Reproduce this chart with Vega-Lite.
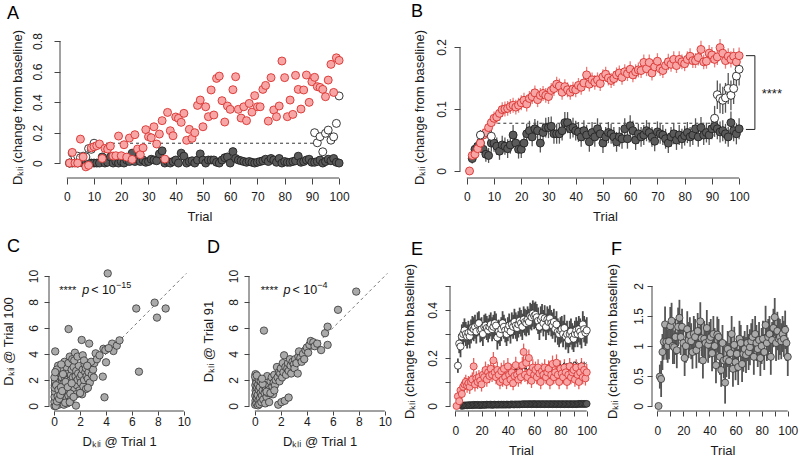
{
"$schema": "https://vega.github.io/schema/vega-lite/v6.json",
"padding": {"left": 2, "top": 3, "right": 5, "bottom": 5},
"config": {
  "view": {"stroke": null},
  "font": "Liberation Sans",
  "axis": {"domain": false, "grid": false, "tickColor": "#444", "tickWidth": 1, "labelFont": "Liberation Sans", "labelFontSize": 12, "labelColor": "#1a1a1a", "titleFont": "Liberation Sans", "titleFontSize": 13, "titleFontWeight": "normal", "titleColor": "#1a1a1a", "labelOverlap": false, "labelFlush": false},
  "axisY": {"labelAngle": -90, "labelAlign": "center", "labelBaseline": "bottom"},
  "title": {"anchor": "start", "frame": "group", "fontSize": 18, "fontWeight": "normal", "baseline": "alphabetic", "offset": 19, "font": "Liberation Sans", "color": "#000"}
},
"datasets": {
"A": [
{"t":1,"r":0,"d":0,"o":0},{"t":2,"r":0.07,"d":0,"o":0.065},{"t":3,"r":0,"d":0.01,"o":0.04},{"t":4,"r":0,"d":0,"o":0.045},{"t":5,"r":0.157,"d":0.02,"o":0.035},
{"t":6,"r":0.04,"d":0,"o":0.045},{"t":7,"r":-0.025,"d":0.01,"o":0.04},{"t":8,"r":-0.015,"d":0,"o":0.095},{"t":9,"r":0.1,"d":0,"o":0.09},{"t":10,"r":0.107,"d":0,"o":0.13},
{"t":11,"r":0.114,"d":0},{"t":12,"r":0.125,"d":0},{"t":13,"r":0.03,"d":0.04},{"t":14,"r":0.096,"d":0},{"t":15,"r":0.092,"d":0.005},
{"t":16,"r":0.111,"d":0.04},{"t":17,"r":0.046,"d":0},{"t":18,"r":0.048,"d":0.01},{"t":19,"r":0.177,"d":0},{"t":20,"r":0.048,"d":0.01},
{"t":21,"r":0.12,"d":0},{"t":22,"r":0.039,"d":0.02},{"t":23,"r":0.164,"d":0.01},{"t":24,"r":0.024,"d":0.065},{"t":25,"r":0.186,"d":0.01},
{"t":26,"r":0.092,"d":0.025},{"t":27,"r":0.055,"d":0.01},{"t":28,"r":0.1,"d":0.02},{"t":29,"r":0.219,"d":0.005},{"t":30,"r":0.173,"d":0.01},
{"t":31,"r":0.166,"d":0.025},{"t":32,"r":0.238,"d":0.02},{"t":33,"r":0.125,"d":0.015},{"t":34,"r":0.19,"d":0.06},{"t":35,"r":0.278,"d":0.08},
{"t":36,"r":0.026,"d":0},{"t":37,"r":0.332,"d":0.01},{"t":38,"r":0.212,"d":0},{"t":39,"r":0.179,"d":0.01},{"t":40,"r":0.302,"d":0.02},
{"t":41,"r":0.293,"d":0},{"t":42,"r":0.267,"d":0.065},{"t":43,"r":0.326,"d":0.045},{"t":44,"r":0.149,"d":0},{"t":45,"r":0.221,"d":0.01},
{"t":46,"r":0.162,"d":0.015},{"t":47,"r":0.199,"d":0},{"t":48,"r":0.378,"d":0.02},{"t":49,"r":0.413,"d":0.06},{"t":50,"r":0.238,"d":0.02},
{"t":51,"r":0.369,"d":0},{"t":52,"r":0.304,"d":0.02},{"t":53,"r":0.479,"d":0.02},{"t":54,"r":0.315,"d":0.02},{"t":55,"r":0.555,"d":0.005},
{"t":56,"r":0.57,"d":0},{"t":57,"r":0.409,"d":0.02},{"t":58,"r":0.269,"d":0.035},{"t":59,"r":0.374,"d":0.04},{"t":60,"r":0.352,"d":0},
{"t":61,"r":0.481,"d":0.075},{"t":62,"r":0.566,"d":0.03},{"t":63,"r":0.352,"d":0.02},{"t":64,"r":0.295,"d":0.015},{"t":65,"r":0.369,"d":0.01},
{"t":66,"r":0.278,"d":0.005},{"t":67,"r":0.391,"d":0.01},{"t":68,"r":0.334,"d":0.005},{"t":69,"r":0.442,"d":0},{"t":70,"r":0.369,"d":0.005},
{"t":71,"r":0.369,"d":0.01},{"t":72,"r":0.483,"d":0.015},{"t":73,"r":0.509,"d":0.025},{"t":74,"r":0.275,"d":0.01},{"t":75,"r":0.56,"d":0.03},
{"t":76,"r":0.348,"d":0.02},{"t":77,"r":0.304,"d":0.005},{"t":78,"r":0.374,"d":0.03},{"t":79,"r":0.669,"d":0},{"t":80,"r":0.56,"d":0.01},
{"t":81,"r":0.304,"d":0.005},{"t":82,"r":0.413,"d":0.005},{"t":83,"r":0.319,"d":0.01},{"t":84,"r":0.575,"d":0.015},{"t":85,"r":0.483,"d":0.045},
{"t":86,"r":0.354,"d":0.005},{"t":87,"r":0.479,"d":0.01},{"t":88,"r":0.577,"d":0.02},{"t":89,"r":0.398,"d":0.025},{"t":90,"r":0.533,"d":0.005},
{"t":91,"r":0.562,"d":0.005,"o":0.199},{"t":92,"r":0.501,"d":0.01,"o":0.133},{"t":93,"r":0.496,"d":0.02,"o":0.173},{"t":94,"r":0.483,"d":0,"o":0.074},{"t":95,"r":0.435,"d":0.01,"o":0.195},
{"t":96,"r":0.544,"d":0.025,"o":0.216},{"t":97,"r":0.647,"d":0.015,"o":0.15},{"t":98,"r":0.463,"d":0.03,"o":0.172},{"t":99,"r":0.69,"d":0.005,"o":0.26},{"t":100,"r":0.673,"d":0,"o":0.44}
],
"B": [
{"t":1,"r":0,"re":0.001},
{"t":2,"r":0.025,"re":0.006,"d":0.02,"de":0.008},{"t":3,"r":0.027,"re":0.007,"d":0.035,"de":0.01},{"t":4,"r":0.036,"re":0.008,"d":0.04,"de":0.012},{"t":5,"r":0.045,"re":0.009,"d":0.045,"de":0.012,"o":0.058,"oe":0.008},
{"t":6,"r":0.058,"re":0.01,"d":0.035,"de":0.013},{"t":7,"r":0.062,"re":0.01,"d":0.027,"de":0.012},{"t":8,"r":0.07,"re":0.011,"d":0.025,"de":0.012},{"t":9,"r":0.078,"re":0.011,"d":0.045,"de":0.014,"o":0.056,"oe":0.01},{"t":10,"r":0.085,"re":0.011,"d":0.045,"de":0.014},
{"t":11,"r":0.087,"re":0.011,"d":0.04,"de":0.014},{"t":12,"r":0.093,"re":0.012,"d":0.032,"de":0.014},{"t":13,"r":0.099,"re":0.012,"d":0.042,"de":0.015},{"t":14,"r":0.1,"re":0.012,"d":0.04,"de":0.014},{"t":15,"r":0.101,"re":0.012,"d":0.036,"de":0.015},
{"t":16,"r":0.104,"re":0.012,"d":0.042,"de":0.014},{"t":17,"r":0.106,"re":0.012,"d":0.058,"de":0.016},{"t":18,"r":0.103,"re":0.012,"d":0.045,"de":0.015},{"t":19,"r":0.106,"re":0.012,"d":0.035,"de":0.015},{"t":20,"r":0.11,"re":0.012,"d":0.035,"de":0.014},
{"t":21,"r":0.114,"re":0.012,"d":0.045,"de":0.015},{"t":22,"r":0.108,"re":0.012,"d":0.06,"de":0.016},{"t":23,"r":0.117,"re":0.012,"d":0.065,"de":0.016},{"t":24,"r":0.12,"re":0.012,"d":0.055,"de":0.015},{"t":25,"r":0.126,"re":0.012,"d":0.068,"de":0.016},
{"t":26,"r":0.115,"re":0.012,"d":0.065,"de":0.016},{"t":27,"r":0.122,"re":0.012,"d":0.045,"de":0.015},{"t":28,"r":0.125,"re":0.012,"d":0.062,"de":0.016},{"t":29,"r":0.122,"re":0.012,"d":0.07,"de":0.016},{"t":30,"r":0.12,"re":0.012,"d":0.07,"de":0.017},
{"t":31,"r":0.13,"re":0.012,"d":0.072,"de":0.016},{"t":32,"r":0.133,"re":0.012,"d":0.06,"de":0.016},{"t":33,"r":0.14,"re":0.012,"d":0.06,"de":0.016},{"t":34,"r":0.137,"re":0.012,"d":0.06,"de":0.016},{"t":35,"r":0.127,"re":0.012,"d":0.065,"de":0.016},
{"t":36,"r":0.136,"re":0.012,"d":0.078,"de":0.017},{"t":37,"r":0.131,"re":0.012,"d":0.078,"de":0.017},{"t":38,"r":0.127,"re":0.012,"d":0.068,"de":0.016},{"t":39,"r":0.132,"re":0.012,"d":0.07,"de":0.016},{"t":40,"r":0.131,"re":0.012,"d":0.065,"de":0.016},
{"t":41,"r":0.138,"re":0.012,"d":0.063,"de":0.016},{"t":42,"r":0.135,"re":0.012,"d":0.055,"de":0.016},{"t":43,"r":0.142,"re":0.012,"d":0.065,"de":0.017},{"t":44,"r":0.155,"re":0.013,"d":0.058,"de":0.016},{"t":45,"r":0.14,"re":0.012,"d":0.047,"de":0.016},
{"t":46,"r":0.147,"re":0.012,"d":0.062,"de":0.017},{"t":47,"r":0.143,"re":0.012,"d":0.055,"de":0.016},{"t":48,"r":0.147,"re":0.012,"d":0.068,"de":0.017},{"t":49,"r":0.141,"re":0.012,"d":0.06,"de":0.016},{"t":50,"r":0.152,"re":0.012,"d":0.045,"de":0.016},
{"t":51,"r":0.156,"re":0.012,"d":0.055,"de":0.016},{"t":52,"r":0.15,"re":0.012,"d":0.062,"de":0.017},{"t":53,"r":0.146,"re":0.012,"d":0.06,"de":0.016},{"t":54,"r":0.149,"re":0.012,"d":0.055,"de":0.016},{"t":55,"r":0.155,"re":0.012,"d":0.047,"de":0.016},
{"t":56,"r":0.158,"re":0.012,"d":0.055,"de":0.016},{"t":57,"r":0.151,"re":0.012,"d":0.052,"de":0.016},{"t":58,"r":0.16,"re":0.012,"d":0.068,"de":0.017},{"t":59,"r":0.157,"re":0.012,"d":0.052,"de":0.016},{"t":60,"r":0.164,"re":0.013,"d":0.073,"de":0.017},
{"t":61,"r":0.155,"re":0.012,"d":0.065,"de":0.016},{"t":62,"r":0.16,"re":0.012,"d":0.05,"de":0.016},{"t":63,"r":0.163,"re":0.012,"d":0.06,"de":0.016},{"t":64,"r":0.162,"re":0.012,"d":0.055,"de":0.016},{"t":65,"r":0.175,"re":0.013,"d":0.058,"de":0.016},
{"t":66,"r":0.165,"re":0.012,"d":0.065,"de":0.017},{"t":67,"r":0.175,"re":0.013,"d":0.062,"de":0.016},{"t":68,"r":0.158,"re":0.012,"d":0.055,"de":0.016},{"t":69,"r":0.168,"re":0.012,"d":0.048,"de":0.016},{"t":70,"r":0.177,"re":0.013,"d":0.063,"de":0.017},
{"t":71,"r":0.165,"re":0.012,"d":0.06,"de":0.016},{"t":72,"r":0.162,"re":0.012,"d":0.058,"de":0.016},{"t":73,"r":0.17,"re":0.012,"d":0.052,"de":0.016},{"t":74,"r":0.176,"re":0.013,"d":0.045,"de":0.016},{"t":75,"r":0.172,"re":0.012,"d":0.055,"de":0.016},
{"t":76,"r":0.18,"re":0.013,"d":0.06,"de":0.017},{"t":77,"r":0.17,"re":0.012,"d":0.05,"de":0.016},{"t":78,"r":0.18,"re":0.013,"d":0.058,"de":0.016},{"t":79,"r":0.176,"re":0.012,"d":0.052,"de":0.016},{"t":80,"r":0.173,"re":0.012,"d":0.057,"de":0.016},
{"t":81,"r":0.18,"re":0.013,"d":0.062,"de":0.017},{"t":82,"r":0.185,"re":0.013,"d":0.055,"de":0.016},{"t":83,"r":0.178,"re":0.012,"d":0.058,"de":0.016},{"t":84,"r":0.178,"re":0.012,"d":0.068,"de":0.017},{"t":85,"r":0.183,"re":0.013,"d":0.055,"de":0.016},
{"t":86,"r":0.196,"re":0.014,"d":0.07,"de":0.017},{"t":87,"r":0.176,"re":0.012,"d":0.058,"de":0.016},{"t":88,"r":0.177,"re":0.012,"d":0.062,"de":0.016},{"t":89,"r":0.19,"re":0.013,"d":0.058,"de":0.016},{"t":90,"r":0.187,"re":0.013,"d":0.068,"de":0.017},
{"t":91,"r":0.18,"re":0.013,"d":0.072,"de":0.017,"o":0.085,"oe":0.02},{"t":92,"r":0.184,"re":0.013,"d":0.068,"de":0.017,"o":0.123,"oe":0.023},{"t":93,"r":0.199,"re":0.014,"d":0.063,"de":0.017,"o":0.117,"oe":0.024},{"t":94,"r":0.19,"re":0.013,"d":0.065,"de":0.017,"o":0.114,"oe":0.022},{"t":95,"r":0.178,"re":0.013,"d":0.06,"de":0.016,"o":0.118,"oe":0.024},
{"t":96,"r":0.185,"re":0.013,"d":0.055,"de":0.016,"o":0.133,"oe":0.025},{"t":97,"r":0.18,"re":0.013,"d":0.078,"de":0.018,"o":0.122,"oe":0.024},{"t":98,"r":0.185,"re":0.013,"d":0.065,"de":0.017,"o":0.133,"oe":0.025},{"t":99,"r":0.176,"re":0.013,"d":0.06,"de":0.017,"o":0.153,"oe":0.025},{"t":100,"r":0.186,"re":0.013,"d":0.068,"de":0.017,"o":0.164,"oe":0.026}
],
"C": [
{"x":0.05,"y":0.1},{"x":0.05,"y":0.4},{"x":0.08,"y":0.8},{"x":0.1,"y":1.2},{"x":0.05,"y":1.6},{"x":0.1,"y":2.0},{"x":0.12,"y":2.3},{"x":0.02,"y":0.0},{"x":0.15,"y":0.6},{"x":0.2,"y":1.0},{"x":0.18,"y":1.4},{"x":0.1,"y":1.8},{"x":0.2,"y":2.4},{"x":0.25,"y":0.2},{"x":0.08,"y":4.2},
{"x":0.3,"y":0.5},{"x":0.35,"y":0.9},{"x":0.4,"y":1.3},{"x":0.45,"y":1.7},{"x":0.3,"y":2.1},{"x":0.5,"y":2.5},{"x":0.55,"y":0.3},{"x":0.6,"y":0.7},{"x":0.5,"y":1.1},{"x":0.42,"y":1.5},{"x":0.58,"y":1.9},{"x":0.35,"y":0.1},{"x":0.45,"y":2.7},{"x":0.6,"y":2.2},{"x":0.3,"y":3.1},
{"x":0.7,"y":0.4},{"x":0.75,"y":0.9},{"x":0.8,"y":1.3},{"x":0.7,"y":1.7},{"x":0.85,"y":2.1},{"x":0.9,"y":2.6},{"x":0.95,"y":0.6},{"x":1.0,"y":1.0},{"x":0.9,"y":1.5},{"x":0.65,"y":2.9},{"x":0.8,"y":3.4},{"x":1.0,"y":2.0},{"x":0.75,"y":0.1},{"x":0.95,"y":3.0},{"x":1.0,"y":0.2},
{"x":1.1,"y":0.8},{"x":1.15,"y":1.2},{"x":1.2,"y":1.6},{"x":1.25,"y":2.0},{"x":1.3,"y":2.4},{"x":1.35,"y":2.8},{"x":1.4,"y":1.1},{"x":1.45,"y":1.5},{"x":1.1,"y":3.3},{"x":1.2,"y":3.8},{"x":1.11,"y":5.92},{"x":1.3,"y":0.5},{"x":1.45,"y":2.2},{"x":1.5,"y":3.0},{"x":1.4,"y":3.6},
{"x":1.55,"y":1.3},{"x":1.6,"y":1.8},{"x":1.65,"y":2.3},{"x":1.7,"y":2.7},{"x":1.75,"y":1.6},{"x":1.8,"y":2.0},{"x":1.85,"y":2.5},{"x":1.9,"y":3.1},{"x":1.68,"y":0.03},{"x":1.6,"y":4.1},{"x":1.95,"y":1.2},{"x":1.55,"y":3.5},{"x":1.8,"y":3.8},{"x":2.0,"y":2.2},{"x":1.7,"y":0.9},
{"x":2.05,"y":1.8},{"x":2.1,"y":2.4},{"x":2.2,"y":2.8},{"x":2.25,"y":1.5},{"x":2.3,"y":2.0},{"x":2.35,"y":3.2},{"x":2.4,"y":2.6},{"x":2.12,"y":5.08},{"x":2.2,"y":3.9},{"x":2.45,"y":1.3},{"x":2.5,"y":2.3},{"x":2.15,"y":0.9},{"x":2.3,"y":3.5},{"x":2.45,"y":2.9},{"x":2.0,"y":1.0},
{"x":2.6,"y":2.1},{"x":2.65,"y":2.6},{"x":2.7,"y":4.8},{"x":2.75,"y":1.8},{"x":2.8,"y":3.0},{"x":2.9,"y":2.4},{"x":3.0,"y":2.8},{"x":3.1,"y":3.3},{"x":3.2,"y":4.05},{"x":2.6,"y":1.4},{"x":2.85,"y":3.4},{"x":3.05,"y":2.2},{"x":2.55,"y":3.1},
{"x":3.75,"y":2.26},{"x":3.88,"y":0.67},{"x":3.8,"y":4.4},{"x":3.95,"y":4.3},{"x":4.0,"y":3.36},{"x":4.13,"y":10.2},{"x":4.47,"y":4.8},{"x":4.57,"y":4.23},{"x":4.83,"y":4.64},{"x":5.04,"y":5.05},{"x":6.33,"y":7.5},{"x":6.54,"y":2.64},{"x":7.75,"y":7.95},{"x":7.93,"y":6.8},{"x":8.6,"y":7.5},{"x":3.3,"y":3.6},{"x":3.5,"y":3.9},{"x":4.2,"y":4.45},
{"x":0.02,"y":0.3},{"x":0.03,"y":0.7},{"x":0.06,"y":1.1},{"x":0.04,"y":1.4},{"x":0.07,"y":1.9},{"x":0.02,"y":2.2},{"x":0.12,"y":0.0},{"x":0.22,"y":0.35},{"x":0.27,"y":0.75},{"x":0.15,"y":1.6},{"x":0.33,"y":1.25},{"x":0.38,"y":0.55},{"x":0.48,"y":0.85},{"x":0.52,"y":1.45},{"x":0.62,"y":1.15},{"x":0.68,"y":2.45},{"x":0.85,"y":0.25},{"x":0.88,"y":1.85},{"x":1.05,"y":1.45},{"x":1.2,"y":0.3},{"x":1.25,"y":0.95},{"x":1.35,"y":1.75},{"x":1.5,"y":0.7},{"x":0.2,"y":2.8},{"x":0.55,"y":3.2},{"x":0.08,"y":2.6}
],
"D": [
{"x":0.02,"y":0.1},{"x":0.05,"y":0.4},{"x":0.03,"y":0.8},{"x":0.06,"y":1.2},{"x":0.04,"y":1.6},{"x":0.08,"y":2.0},{"x":0.05,"y":2.45},{"x":0.12,"y":0.2},{"x":0.15,"y":0.6},{"x":0.1,"y":1.0},{"x":0.18,"y":1.4},{"x":0.12,"y":1.8},{"x":0.2,"y":2.2},{"x":0.25,"y":0.05},{"x":0.28,"y":0.45},
{"x":0.22,"y":0.85},{"x":0.3,"y":1.25},{"x":0.25,"y":1.65},{"x":0.02,"y":2.25},{"x":0.35,"y":0.15},{"x":0.4,"y":0.6},{"x":0.45,"y":1.0},{"x":0.38,"y":1.45},{"x":0.5,"y":0.3},{"x":0.55,"y":0.8},{"x":0.6,"y":1.2},{"x":0.65,"y":0.5},{"x":0.7,"y":1.6},{"x":0.75,"y":1.0},{"x":0.8,"y":0.2},
{"x":0.85,"y":1.3},{"x":0.9,"y":0.7},{"x":0.7,"y":5.8},{"x":0.95,"y":2.3},{"x":1.0,"y":1.0},{"x":1.05,"y":1.6},{"x":1.1,"y":0.3},{"x":1.15,"y":1.3},{"x":1.2,"y":1.9},{"x":1.3,"y":2.2},{"x":1.35,"y":1.5},{"x":1.4,"y":0.9},{"x":1.45,"y":1.8},{"x":1.5,"y":2.4},{"x":1.55,"y":1.6},
{"x":1.6,"y":2.0},{"x":1.7,"y":3.0},{"x":1.75,"y":2.2},{"x":1.8,"y":0.1},{"x":1.85,"y":2.6},{"x":1.9,"y":1.9},{"x":1.95,"y":2.5},{"x":2.0,"y":2.9},{"x":2.05,"y":0.3},{"x":2.1,"y":2.2},{"x":2.15,"y":3.3},{"x":2.2,"y":2.6},{"x":2.25,"y":3.9},{"x":2.3,"y":0.4},{"x":2.35,"y":3.0},
{"x":2.4,"y":2.4},{"x":2.5,"y":2.9},{"x":2.55,"y":3.3},{"x":2.6,"y":0.65},{"x":2.6,"y":2.7},{"x":2.7,"y":3.6},{"x":2.75,"y":3.1},{"x":2.8,"y":2.5},{"x":2.9,"y":3.4},{"x":3.0,"y":3.2},{"x":3.05,"y":2.9},{"x":3.1,"y":3.6},{"x":3.2,"y":3.3},{"x":3.3,"y":2.5},{"x":3.35,"y":3.8},
{"x":3.4,"y":4.2},{"x":3.5,"y":3.7},{"x":3.6,"y":3.4},{"x":3.7,"y":4.0},{"x":3.8,"y":3.6},{"x":3.9,"y":4.3},{"x":4.0,"y":4.5},{"x":4.1,"y":4.1},{"x":4.2,"y":4.7},{"x":4.3,"y":5.0},{"x":4.5,"y":4.9},{"x":4.6,"y":4.6},{"x":4.8,"y":4.8},{"x":5.1,"y":4.3},{"x":5.4,"y":5.6},
{"x":5.6,"y":6.1},{"x":5.6,"y":4.7},{"x":6.4,"y":7.4},{"x":7.8,"y":8.8},{"x":0.3,"y":2.0},{"x":0.15,"y":2.35},{"x":0.45,"y":1.9},{"x":0.6,"y":1.7},{"x":0.9,"y":1.1},{"x":1.2,"y":1.0},{"x":1.5,"y":1.2},{"x":0.55,"y":2.1}
],
"E": [
{"t":1,"r":0,"re":0.003},
{"t":2,"o":0.168,"oe":0.03,"r":0.04,"re":0.02},{"t":3,"o":0.26,"oe":0.04,"r":0.02,"re":0.02},{"t":4,"o":0.248,"oe":0.045,"r":0.065,"re":0.025},{"t":5,"o":0.29,"oe":0.05,"r":0.05,"re":0.025,"d":0.0},
{"t":6,"o":0.3,"oe":0.05,"r":0.08,"re":0.03,"d":0.002},{"t":7,"o":0.315,"oe":0.05,"r":0.09,"re":0.03,"d":0.002},{"t":8,"o":0.3,"oe":0.05,"r":0.1,"re":0.03,"d":0.003},{"t":9,"o":0.29,"oe":0.05,"r":0.085,"re":0.03,"d":0.002},{"t":10,"o":0.305,"oe":0.05,"r":0.095,"re":0.03,"d":0.004},
{"t":11,"o":0.29,"oe":0.05,"r":0.08,"re":0.03,"d":0.003},{"t":12,"o":0.31,"oe":0.05,"r":0.1,"re":0.03,"d":0.004},{"t":13,"o":0.325,"oe":0.05,"r":0.11,"re":0.03,"d":0.003},{"t":14,"o":0.32,"oe":0.05,"r":0.165,"re":0.035,"d":0.005},{"t":15,"o":0.33,"oe":0.05,"r":0.09,"re":0.03,"d":0.004},
{"t":16,"o":0.31,"oe":0.05,"r":0.115,"re":0.03,"d":0.004},{"t":17,"o":0.34,"oe":0.05,"r":0.1,"re":0.03,"d":0.005},{"t":18,"o":0.345,"oe":0.05,"r":0.12,"re":0.03,"d":0.004},{"t":19,"o":0.315,"oe":0.05,"r":0.105,"re":0.03,"d":0.003},{"t":20,"o":0.32,"oe":0.05,"r":0.09,"re":0.03,"d":0.005},
{"t":21,"o":0.3,"oe":0.05,"r":0.13,"re":0.03,"d":0.004},{"t":22,"o":0.33,"oe":0.05,"r":0.12,"re":0.03,"d":0.005},{"t":23,"o":0.335,"oe":0.05,"r":0.15,"re":0.035,"d":0.004},{"t":24,"o":0.325,"oe":0.05,"r":0.11,"re":0.03,"d":0.006},{"t":25,"o":0.315,"oe":0.05,"r":0.14,"re":0.035,"d":0.005},
{"t":26,"o":0.33,"oe":0.05,"r":0.125,"re":0.03,"d":0.005},{"t":27,"o":0.34,"oe":0.05,"r":0.155,"re":0.035,"d":0.006},{"t":28,"o":0.32,"oe":0.05,"r":0.13,"re":0.03,"d":0.004},{"t":29,"o":0.33,"oe":0.05,"r":0.19,"re":0.035,"d":0.005},{"t":30,"o":0.345,"oe":0.05,"r":0.14,"re":0.03,"d":0.006},
{"t":31,"o":0.335,"oe":0.05,"r":0.12,"re":0.03,"d":0.005},{"t":32,"o":0.285,"oe":0.05,"r":0.15,"re":0.035,"d":0.005},{"t":33,"o":0.31,"oe":0.05,"r":0.13,"re":0.03,"d":0.006},{"t":34,"o":0.3,"oe":0.05,"r":0.1,"re":0.03,"d":0.005},{"t":35,"o":0.32,"oe":0.05,"r":0.145,"re":0.035,"d":0.006},
{"t":36,"o":0.345,"oe":0.05,"r":0.11,"re":0.03,"d":0.005},{"t":37,"o":0.33,"oe":0.05,"r":0.155,"re":0.035,"d":0.006},{"t":38,"o":0.315,"oe":0.05,"r":0.12,"re":0.03,"d":0.005},{"t":39,"o":0.3,"oe":0.05,"r":0.1,"re":0.03,"d":0.006},{"t":40,"o":0.32,"oe":0.05,"r":0.165,"re":0.035,"d":0.006,"k":0.14},
{"t":41,"o":0.335,"oe":0.05,"r":0.13,"re":0.03,"d":0.005,"k":0.145},{"t":42,"o":0.31,"oe":0.05,"r":0.11,"re":0.03,"d":0.006,"k":0.138},{"t":43,"o":0.34,"oe":0.05,"r":0.14,"re":0.035,"d":0.007,"k":0.15},{"t":44,"o":0.33,"oe":0.05,"r":0.095,"re":0.03,"d":0.006,"k":0.142},{"t":45,"o":0.35,"oe":0.055,"r":0.125,"re":0.03,"d":0.006,"k":0.148},
{"t":46,"o":0.335,"oe":0.055,"r":0.17,"re":0.035,"d":0.007,"k":0.155},{"t":47,"o":0.325,"oe":0.055,"r":0.13,"re":0.03,"d":0.006,"k":0.147},{"t":48,"o":0.34,"oe":0.055,"r":0.11,"re":0.03,"d":0.007,"k":0.152},{"t":49,"o":0.355,"oe":0.055,"r":0.14,"re":0.035,"d":0.006,"k":0.158},{"t":50,"o":0.345,"oe":0.055,"r":0.12,"re":0.03,"d":0.007,"k":0.15},
{"t":51,"o":0.33,"oe":0.055,"r":0.17,"re":0.035,"d":0.007,"k":0.155},{"t":52,"o":0.36,"oe":0.055,"r":0.225,"re":0.035,"d":0.008,"k":0.16},{"t":53,"o":0.35,"oe":0.055,"r":0.13,"re":0.03,"d":0.007,"k":0.153},{"t":54,"o":0.345,"oe":0.055,"r":0.18,"re":0.035,"d":0.008,"k":0.158},{"t":55,"o":0.36,"oe":0.055,"r":0.12,"re":0.03,"d":0.007,"k":0.15},
{"t":56,"o":0.35,"oe":0.055,"r":0.2,"re":0.035,"d":0.008,"k":0.157},{"t":57,"o":0.375,"oe":0.055,"r":0.14,"re":0.03,"d":0.008,"k":0.162},{"t":58,"o":0.37,"oe":0.055,"r":0.105,"re":0.03,"d":0.007,"k":0.155},{"t":59,"o":0.385,"oe":0.055,"r":0.16,"re":0.035,"d":0.008,"k":0.16},{"t":60,"o":0.375,"oe":0.055,"r":0.13,"re":0.03,"d":0.008,"k":0.152},
{"t":61,"o":0.38,"oe":0.055,"r":0.15,"re":0.035,"d":0.008,"k":0.158},{"t":62,"o":0.37,"oe":0.055,"r":0.12,"re":0.03,"d":0.007,"k":0.165},{"t":63,"o":0.355,"oe":0.055,"r":0.16,"re":0.035,"d":0.008,"k":0.158},{"t":64,"o":0.33,"oe":0.055,"r":0.135,"re":0.03,"d":0.008,"k":0.162},{"t":65,"o":0.36,"oe":0.055,"r":0.1,"re":0.03,"d":0.007,"k":0.156},
{"t":66,"o":0.37,"oe":0.055,"r":0.145,"re":0.035,"d":0.008,"k":0.163},{"t":67,"o":0.345,"oe":0.055,"r":0.13,"re":0.03,"d":0.008,"k":0.17},{"t":68,"o":0.365,"oe":0.055,"r":0.16,"re":0.035,"d":0.007,"k":0.162},{"t":69,"o":0.33,"oe":0.055,"r":0.12,"re":0.03,"d":0.008,"k":0.168},{"t":70,"o":0.36,"oe":0.055,"r":0.14,"re":0.035,"d":0.008,"k":0.16},
{"t":71,"o":0.35,"oe":0.055,"r":0.155,"re":0.035,"d":0.007,"k":0.167},{"t":72,"o":0.365,"oe":0.055,"r":0.1,"re":0.03,"d":0.008,"k":0.172},{"t":73,"o":0.345,"oe":0.055,"r":0.13,"re":0.03,"d":0.008,"k":0.165},{"t":74,"o":0.335,"oe":0.055,"r":0.175,"re":0.035,"d":0.007,"k":0.17},{"t":75,"o":0.35,"oe":0.055,"r":0.12,"re":0.03,"d":0.008,"k":0.175},
{"t":76,"o":0.32,"oe":0.055,"r":0.14,"re":0.035,"d":0.008,"k":0.167},{"t":77,"o":0.34,"oe":0.055,"r":0.18,"re":0.035,"d":0.007,"k":0.172},{"t":78,"o":0.31,"oe":0.055,"r":0.13,"re":0.03,"d":0.008,"k":0.178},{"t":79,"o":0.3,"oe":0.055,"r":0.1,"re":0.03,"d":0.008,"k":0.17},{"t":80,"o":0.315,"oe":0.055,"r":0.155,"re":0.035,"d":0.007,"k":0.174},
{"t":81,"o":0.32,"oe":0.055,"r":0.135,"re":0.03,"d":0.008,"k":0.168},{"t":82,"o":0.3,"oe":0.055,"r":0.12,"re":0.03,"d":0.008,"k":0.175},{"t":83,"o":0.325,"oe":0.055,"r":0.16,"re":0.035,"d":0.007,"k":0.18},{"t":84,"o":0.29,"oe":0.055,"r":0.14,"re":0.035,"d":0.008,"k":0.172},{"t":85,"o":0.3,"oe":0.055,"r":0.1,"re":0.03,"d":0.008,"k":0.177},
{"t":86,"o":0.275,"oe":0.055,"r":0.13,"re":0.03,"d":0.007,"k":0.17},{"t":87,"o":0.3,"oe":0.055,"r":0.165,"re":0.035,"d":0.008,"k":0.176},{"t":88,"o":0.31,"oe":0.055,"r":0.12,"re":0.03,"d":0.008,"k":0.182},{"t":89,"o":0.29,"oe":0.055,"r":0.14,"re":0.035,"d":0.007,"k":0.174},{"t":90,"o":0.28,"oe":0.055,"r":0.15,"re":0.035,"d":0.008,"k":0.179},
{"t":91,"o":0.3,"oe":0.055,"r":0.11,"re":0.03,"d":0.008,"k":0.185},{"t":92,"o":0.315,"oe":0.055,"r":0.16,"re":0.035,"d":0.007,"k":0.176},{"t":93,"o":0.3,"oe":0.055,"r":0.13,"re":0.03,"d":0.008,"k":0.18},{"t":94,"o":0.32,"oe":0.055,"r":0.1,"re":0.03,"d":0.009,"k":0.174},{"t":95,"o":0.31,"oe":0.055,"r":0.14,"re":0.035,"d":0.008,"k":0.178},
{"t":96,"o":0.295,"oe":0.055,"r":0.165,"re":0.035,"d":0.009,"k":0.183},{"t":97,"o":0.34,"oe":0.055,"r":0.12,"re":0.03,"d":0.008,"k":0.175},{"t":98,"o":0.32,"oe":0.055,"r":0.15,"re":0.035,"d":0.009,"k":0.18},{"t":99,"o":0.305,"oe":0.055,"r":0.115,"re":0.03,"d":0.008,"k":0.176},{"t":100,"o":0.315,"oe":0.055,"r":0.14,"re":0.035,"d":0.009,"k":0.18}
],
"F": [
{"t":1,"v":0,"e":0},{"t":2,"v":0.49,"e":0.2},{"t":3,"v":0.45,"e":0.3},{"t":4,"v":0.9,"e":0.3},{"t":5,"v":1.07,"e":0.3},{"t":6,"v":1.36,"e":0.3},{"t":7,"v":1.07,"e":0.3},{"t":8,"v":1.0,"e":0.28},{"t":9,"v":1.08,"e":0.3},{"t":10,"v":1.33,"e":0.32},
{"t":11,"v":1.42,"e":0.3},{"t":12,"v":1.0,"e":0.3},{"t":13,"v":0.98,"e":0.28},{"t":14,"v":1.15,"e":0.3},{"t":15,"v":0.93,"e":0.3},{"t":16,"v":1.32,"e":0.32},{"t":17,"v":1.47,"e":0.3},{"t":18,"v":1.15,"e":0.3},{"t":19,"v":1.32,"e":0.3},{"t":20,"v":1.05,"e":0.3},
{"t":21,"v":0.8,"e":0.3},{"t":22,"v":1.0,"e":0.28},{"t":23,"v":1.28,"e":0.3},{"t":24,"v":1.1,"e":0.3},{"t":25,"v":1.18,"e":0.3},{"t":26,"v":1.08,"e":0.3},{"t":27,"v":0.9,"e":0.28},{"t":28,"v":1.2,"e":0.3},{"t":29,"v":1.15,"e":0.3},{"t":30,"v":0.93,"e":0.3},
{"t":31,"v":1.25,"e":0.3},{"t":32,"v":1.02,"e":0.3},{"t":33,"v":1.41,"e":0.32},{"t":34,"v":1.13,"e":0.3},{"t":35,"v":0.76,"e":0.3},{"t":36,"v":1.12,"e":0.3},{"t":37,"v":1.05,"e":0.3},{"t":38,"v":1.3,"e":0.3},{"t":39,"v":1.02,"e":0.3},{"t":40,"v":1.1,"e":0.3},
{"t":41,"v":1.15,"e":0.3},{"t":42,"v":0.88,"e":0.3},{"t":43,"v":1.2,"e":0.3},{"t":44,"v":1.0,"e":0.3},{"t":45,"v":0.68,"e":0.3},{"t":46,"v":1.19,"e":0.3},{"t":47,"v":1.15,"e":0.3},{"t":48,"v":0.82,"e":0.3},{"t":49,"v":0.6,"e":0.28},{"t":50,"v":1.05,"e":0.3},
{"t":51,"v":0.76,"e":0.3},{"t":52,"v":0.39,"e":0.35},{"t":53,"v":0.78,"e":0.3},{"t":54,"v":0.95,"e":0.3},{"t":55,"v":0.75,"e":0.3},{"t":56,"v":0.88,"e":0.3},{"t":57,"v":1.2,"e":0.3},{"t":58,"v":0.62,"e":0.3},{"t":59,"v":1.02,"e":0.3},{"t":60,"v":0.73,"e":0.3},
{"t":61,"v":0.87,"e":0.3},{"t":62,"v":0.65,"e":0.3},{"t":63,"v":1.12,"e":0.3},{"t":64,"v":1.05,"e":0.3},{"t":65,"v":0.7,"e":0.3},{"t":66,"v":0.87,"e":0.3},{"t":67,"v":0.95,"e":0.3},{"t":68,"v":0.85,"e":0.3},{"t":69,"v":1.05,"e":0.3},{"t":70,"v":0.9,"e":0.3},
{"t":71,"v":0.98,"e":0.3},{"t":72,"v":1.08,"e":0.3},{"t":73,"v":1.15,"e":0.3},{"t":74,"v":0.82,"e":0.3},{"t":75,"v":1.2,"e":0.3},{"t":76,"v":1.05,"e":0.3},{"t":77,"v":0.95,"e":0.3},{"t":78,"v":1.1,"e":0.3},{"t":79,"v":0.8,"e":0.3},{"t":80,"v":1.0,"e":0.3},
{"t":81,"v":1.12,"e":0.3},{"t":82,"v":0.9,"e":0.3},{"t":83,"v":1.35,"e":0.32},{"t":84,"v":1.05,"e":0.3},{"t":85,"v":1.15,"e":0.3},{"t":86,"v":1.2,"e":0.3},{"t":87,"v":0.82,"e":0.3},{"t":88,"v":1.1,"e":0.3},{"t":89,"v":1.3,"e":0.32},{"t":90,"v":1.48,"e":0.32},
{"t":91,"v":1.05,"e":0.3},{"t":92,"v":1.25,"e":0.32},{"t":93,"v":1.12,"e":0.35},{"t":94,"v":1.15,"e":0.3},{"t":95,"v":1.08,"e":0.3},{"t":96,"v":1.2,"e":0.3},{"t":97,"v":1.12,"e":0.3},{"t":98,"v":1.27,"e":0.32},{"t":99,"v":1.05,"e":0.3},{"t":100,"v":0.82,"e":0.32}
]
},
"vconcat": [
 {"hconcat": [
  {
   "width": 301, "height": 142,
   "title": {"text": "A", "dx": -42, "offset": 6},
   "layer": [
    {"data": {"values": [{"k": 1}]}, "mark": {"type": "rule", "color": "#444"}, "encoding": {
      "x": {"datum": 0, "type": "quantitative", "title": "Trial", "scale": {"domain": [-6.54, 104], "nice": false, "zero": false}, "axis": {"values": [0,10,20,30,40,50,60,70,80,90,100], "labelOverlap": false, "tickSize": 6, "labelPadding": 7, "titlePadding": 8}},
      "x2": {"datum": 100},
      "y": {"datum": -0.098, "type": "quantitative", "title": "Dₖₗᵢ (change from baseline)", "scale": {"domain": [-0.098, 0.833], "nice": false, "zero": false}, "axis": {"values": [0,0.2,0.4,0.6,0.8], "labelOverlap": false, "labelExpr": "format(datum.value, '~g')", "offset": -11, "tickSize": 6, "labelPadding": 10, "titlePadding": 7}}}},
    {"data": {"values": [{"k": 1}]}, "mark": {"type": "rule", "color": "#444"}, "encoding": {
      "x": {"datum": -2.5, "type": "quantitative", "title": "Trial", "scale": {"domain": [-6.54, 104], "nice": false, "zero": false}, "axis": {"values": [0,10,20,30,40,50,60,70,80,90,100], "labelOverlap": false, "tickSize": 6, "labelPadding": 7, "titlePadding": 8}},
      "y": {"datum": 0, "type": "quantitative", "title": "Dₖₗᵢ (change from baseline)", "scale": {"domain": [-0.098, 0.833], "nice": false, "zero": false}, "axis": {"values": [0,0.2,0.4,0.6,0.8], "labelOverlap": false, "labelExpr": "format(datum.value, '~g')", "offset": -11, "tickSize": 6, "labelPadding": 10, "titlePadding": 7}},
      "y2": {"datum": 0.8}}},
    {"data": {"values": [{"k": 1}]}, "mark": {"type": "rule", "color": "#333", "strokeDash": [3, 3]}, "encoding": {
      "x": {"datum": 10, "type": "quantitative", "title": "Trial", "scale": {"domain": [-6.54, 104], "nice": false, "zero": false}, "axis": {"values": [0,10,20,30,40,50,60,70,80,90,100], "labelOverlap": false, "tickSize": 6, "labelPadding": 7, "titlePadding": 8}},
      "x2": {"datum": 92},
      "y": {"datum": 0.13, "type": "quantitative", "title": "Dₖₗᵢ (change from baseline)", "scale": {"domain": [-0.098, 0.833], "nice": false, "zero": false}, "axis": {"values": [0,0.2,0.4,0.6,0.8], "labelOverlap": false, "labelExpr": "format(datum.value, '~g')", "offset": -11, "tickSize": 6, "labelPadding": 10, "titlePadding": 7}}}},
    {"data": {"name": "A"}, "mark": {"type": "circle", "size": 64, "fill": "#5a5a5a", "stroke": "#222", "strokeWidth": 0.9, "opacity": 1}, "encoding": {
      "x": {"field": "t", "type": "quantitative", "title": "Trial", "scale": {"domain": [-6.54, 104], "nice": false, "zero": false}, "axis": {"values": [0,10,20,30,40,50,60,70,80,90,100], "labelOverlap": false, "tickSize": 6, "labelPadding": 7, "titlePadding": 8}},
      "y": {"field": "d", "type": "quantitative", "title": "Dₖₗᵢ (change from baseline)", "scale": {"domain": [-0.098, 0.833], "nice": false, "zero": false}, "axis": {"values": [0,0.2,0.4,0.6,0.8], "labelOverlap": false, "labelExpr": "format(datum.value, '~g')", "offset": -11, "tickSize": 6, "labelPadding": 10, "titlePadding": 7}}}},
    {"data": {"name": "A"}, "transform": [{"filter": "isValid(datum.o)"}], "mark": {"type": "circle", "size": 64, "fill": "#ffffff", "stroke": "#222", "strokeWidth": 0.9, "opacity": 1}, "encoding": {
      "x": {"field": "t", "type": "quantitative", "title": "Trial", "scale": {"domain": [-6.54, 104], "nice": false, "zero": false}, "axis": {"values": [0,10,20,30,40,50,60,70,80,90,100], "labelOverlap": false, "tickSize": 6, "labelPadding": 7, "titlePadding": 8}},
      "y": {"field": "o", "type": "quantitative", "title": "Dₖₗᵢ (change from baseline)", "scale": {"domain": [-0.098, 0.833], "nice": false, "zero": false}, "axis": {"values": [0,0.2,0.4,0.6,0.8], "labelOverlap": false, "labelExpr": "format(datum.value, '~g')", "offset": -11, "tickSize": 6, "labelPadding": 10, "titlePadding": 7}}}},
    {"data": {"name": "A"}, "mark": {"type": "circle", "size": 64, "fill": "#f7a5a5", "stroke": "#d8312e", "strokeWidth": 0.9, "opacity": 1}, "encoding": {
      "x": {"field": "t", "type": "quantitative", "title": "Trial", "scale": {"domain": [-6.54, 104], "nice": false, "zero": false}, "axis": {"values": [0,10,20,30,40,50,60,70,80,90,100], "labelOverlap": false, "tickSize": 6, "labelPadding": 7, "titlePadding": 8}},
      "y": {"field": "r", "type": "quantitative", "title": "Dₖₗᵢ (change from baseline)", "scale": {"domain": [-0.098, 0.833], "nice": false, "zero": false}, "axis": {"values": [0,0.2,0.4,0.6,0.8], "labelOverlap": false, "labelExpr": "format(datum.value, '~g')", "offset": -11, "tickSize": 6, "labelPadding": 10, "titlePadding": 7}}}}
   ]
  },
  {
   "width": 290, "height": 142,
   "title": {"text": "B", "dx": -49, "offset": 8},
   "layer": [
    {"data": {"values": [{"k": 1}]}, "mark": {"type": "rule", "color": "#444"}, "encoding": {
      "x": {"datum": 0, "type": "quantitative", "title": "Trial", "scale": {"domain": [-2.5, 104], "nice": false, "zero": false}, "axis": {"values": [0,10,20,30,40,50,60,70,80,90,100], "labelOverlap": false, "tickSize": 6, "labelPadding": 7, "titlePadding": 8}},
      "x2": {"datum": 100},
      "y": {"datum": -0.0113, "type": "quantitative", "title": "Dₖₗᵢ (change from baseline)", "scale": {"domain": [-0.0113, 0.2177], "nice": false, "zero": false}, "axis": {"values": [0,0.1,0.2], "labelOverlap": false, "labelExpr": "format(datum.value, '~g')", "tickSize": 6, "labelPadding": 6, "titlePadding": 9}}}},
    {"data": {"values": [{"k": 1}]}, "mark": {"type": "rule", "color": "#444"}, "encoding": {
      "x": {"datum": -2.5, "type": "quantitative", "title": "Trial", "scale": {"domain": [-2.5, 104], "nice": false, "zero": false}, "axis": {"values": [0,10,20,30,40,50,60,70,80,90,100], "labelOverlap": false, "tickSize": 6, "labelPadding": 7, "titlePadding": 8}},
      "y": {"datum": 0, "type": "quantitative", "title": "Dₖₗᵢ (change from baseline)", "scale": {"domain": [-0.0113, 0.2177], "nice": false, "zero": false}, "axis": {"values": [0,0.1,0.2], "labelOverlap": false, "labelExpr": "format(datum.value, '~g')", "tickSize": 6, "labelPadding": 6, "titlePadding": 9}},
      "y2": {"datum": 0.2}}},
    {"data": {"values": [{"k": 1}]}, "mark": {"type": "rule", "color": "#333", "strokeDash": [3, 3]}, "encoding": {
      "x": {"datum": 9, "type": "quantitative", "title": "Trial", "scale": {"domain": [-2.5, 104], "nice": false, "zero": false}, "axis": {"values": [0,10,20,30,40,50,60,70,80,90,100], "labelOverlap": false, "tickSize": 6, "labelPadding": 7, "titlePadding": 8}},
      "x2": {"datum": 92},
      "y": {"datum": 0.077, "type": "quantitative", "title": "Dₖₗᵢ (change from baseline)", "scale": {"domain": [-0.0113, 0.2177], "nice": false, "zero": false}, "axis": {"values": [0,0.1,0.2], "labelOverlap": false, "labelExpr": "format(datum.value, '~g')", "tickSize": 6, "labelPadding": 6, "titlePadding": 9}}}},
    {"data": {"values": [{"k": 1}]}, "mark": {"type": "rule", "color": "#222"}, "encoding": {
      "x": {"datum": 105.8, "type": "quantitative", "title": "Trial", "scale": {"domain": [-2.5, 104], "nice": false, "zero": false}, "axis": {"values": [0,10,20,30,40,50,60,70,80,90,100], "labelOverlap": false, "tickSize": 6, "labelPadding": 7, "titlePadding": 8}},
      "y": {"datum": 0.067, "type": "quantitative", "title": "Dₖₗᵢ (change from baseline)", "scale": {"domain": [-0.0113, 0.2177], "nice": false, "zero": false}, "axis": {"values": [0,0.1,0.2], "labelOverlap": false, "labelExpr": "format(datum.value, '~g')", "tickSize": 6, "labelPadding": 6, "titlePadding": 9}},
      "y2": {"datum": 0.186}}},
    {"data": {"values": [{"k": 1}]}, "mark": {"type": "rule", "color": "#222"}, "encoding": {
      "x": {"datum": 102.5, "type": "quantitative", "title": "Trial", "scale": {"domain": [-2.5, 104], "nice": false, "zero": false}, "axis": {"values": [0,10,20,30,40,50,60,70,80,90,100], "labelOverlap": false, "tickSize": 6, "labelPadding": 7, "titlePadding": 8}},
      "x2": {"datum": 105.8},
      "y": {"datum": 0.186, "type": "quantitative", "title": "Dₖₗᵢ (change from baseline)", "scale": {"domain": [-0.0113, 0.2177], "nice": false, "zero": false}, "axis": {"values": [0,0.1,0.2], "labelOverlap": false, "labelExpr": "format(datum.value, '~g')", "tickSize": 6, "labelPadding": 6, "titlePadding": 9}}}},
    {"data": {"values": [{"k": 1}]}, "mark": {"type": "rule", "color": "#222"}, "encoding": {
      "x": {"datum": 102.5, "type": "quantitative", "title": "Trial", "scale": {"domain": [-2.5, 104], "nice": false, "zero": false}, "axis": {"values": [0,10,20,30,40,50,60,70,80,90,100], "labelOverlap": false, "tickSize": 6, "labelPadding": 7, "titlePadding": 8}},
      "x2": {"datum": 105.8},
      "y": {"datum": 0.067, "type": "quantitative", "title": "Dₖₗᵢ (change from baseline)", "scale": {"domain": [-0.0113, 0.2177], "nice": false, "zero": false}, "axis": {"values": [0,0.1,0.2], "labelOverlap": false, "labelExpr": "format(datum.value, '~g')", "tickSize": 6, "labelPadding": 6, "titlePadding": 9}}}},
    {"data": {"values": [{"k": 1}]}, "mark": {"type": "text", "text": "****", "align": "left", "baseline": "middle", "dy": 3, "fontSize": 13, "color": "#222"}, "encoding": {
      "x": {"datum": 108.3, "type": "quantitative", "title": "Trial", "scale": {"domain": [-2.5, 104], "nice": false, "zero": false}, "axis": {"values": [0,10,20,30,40,50,60,70,80,90,100], "labelOverlap": false, "tickSize": 6, "labelPadding": 7, "titlePadding": 8}},
      "y": {"datum": 0.129, "type": "quantitative", "title": "Dₖₗᵢ (change from baseline)", "scale": {"domain": [-0.0113, 0.2177], "nice": false, "zero": false}, "axis": {"values": [0,0.1,0.2], "labelOverlap": false, "labelExpr": "format(datum.value, '~g')", "tickSize": 6, "labelPadding": 6, "titlePadding": 9}}}},
    {"data": {"name": "B"}, "transform": [{"filter": "isValid(datum.d)"}], "mark": {"type": "errorbar", "color": "#555", "thickness": 1.3}, "encoding": {
      "x": {"field": "t", "type": "quantitative", "title": "Trial", "scale": {"domain": [-2.5, 104], "nice": false, "zero": false}, "axis": {"values": [0,10,20,30,40,50,60,70,80,90,100], "labelOverlap": false, "tickSize": 6, "labelPadding": 7, "titlePadding": 8}},
      "y": {"field": "d", "type": "quantitative", "title": "Dₖₗᵢ (change from baseline)", "scale": {"domain": [-0.0113, 0.2177], "nice": false, "zero": false}, "axis": {"values": [0,0.1,0.2], "labelOverlap": false, "labelExpr": "format(datum.value, '~g')", "tickSize": 6, "labelPadding": 6, "titlePadding": 9}},
      "yError": {"field": "de"}}},
    {"data": {"name": "B"}, "mark": {"type": "errorbar", "color": "#ec7d7a", "thickness": 1.3}, "encoding": {
      "x": {"field": "t", "type": "quantitative", "title": "Trial", "scale": {"domain": [-2.5, 104], "nice": false, "zero": false}, "axis": {"values": [0,10,20,30,40,50,60,70,80,90,100], "labelOverlap": false, "tickSize": 6, "labelPadding": 7, "titlePadding": 8}},
      "y": {"field": "r", "type": "quantitative", "title": "Dₖₗᵢ (change from baseline)", "scale": {"domain": [-0.0113, 0.2177], "nice": false, "zero": false}, "axis": {"values": [0,0.1,0.2], "labelOverlap": false, "labelExpr": "format(datum.value, '~g')", "tickSize": 6, "labelPadding": 6, "titlePadding": 9}},
      "yError": {"field": "re"}}},
    {"data": {"name": "B"}, "transform": [{"filter": "isValid(datum.o)"}], "mark": {"type": "errorbar", "color": "#555", "thickness": 1.3}, "encoding": {
      "x": {"field": "t", "type": "quantitative", "title": "Trial", "scale": {"domain": [-2.5, 104], "nice": false, "zero": false}, "axis": {"values": [0,10,20,30,40,50,60,70,80,90,100], "labelOverlap": false, "tickSize": 6, "labelPadding": 7, "titlePadding": 8}},
      "y": {"field": "o", "type": "quantitative", "title": "Dₖₗᵢ (change from baseline)", "scale": {"domain": [-0.0113, 0.2177], "nice": false, "zero": false}, "axis": {"values": [0,0.1,0.2], "labelOverlap": false, "labelExpr": "format(datum.value, '~g')", "tickSize": 6, "labelPadding": 6, "titlePadding": 9}},
      "yError": {"field": "oe"}}},
    {"data": {"name": "B"}, "transform": [{"filter": "isValid(datum.d)"}], "mark": {"type": "circle", "size": 64, "fill": "#5a5a5a", "stroke": "#222", "strokeWidth": 0.9, "opacity": 1}, "encoding": {
      "x": {"field": "t", "type": "quantitative", "title": "Trial", "scale": {"domain": [-2.5, 104], "nice": false, "zero": false}, "axis": {"values": [0,10,20,30,40,50,60,70,80,90,100], "labelOverlap": false, "tickSize": 6, "labelPadding": 7, "titlePadding": 8}},
      "y": {"field": "d", "type": "quantitative", "title": "Dₖₗᵢ (change from baseline)", "scale": {"domain": [-0.0113, 0.2177], "nice": false, "zero": false}, "axis": {"values": [0,0.1,0.2], "labelOverlap": false, "labelExpr": "format(datum.value, '~g')", "tickSize": 6, "labelPadding": 6, "titlePadding": 9}}}},
    {"data": {"name": "B"}, "mark": {"type": "circle", "size": 64, "fill": "#f7a5a5", "stroke": "#d8312e", "strokeWidth": 0.9, "opacity": 1}, "encoding": {
      "x": {"field": "t", "type": "quantitative", "title": "Trial", "scale": {"domain": [-2.5, 104], "nice": false, "zero": false}, "axis": {"values": [0,10,20,30,40,50,60,70,80,90,100], "labelOverlap": false, "tickSize": 6, "labelPadding": 7, "titlePadding": 8}},
      "y": {"field": "r", "type": "quantitative", "title": "Dₖₗᵢ (change from baseline)", "scale": {"domain": [-0.0113, 0.2177], "nice": false, "zero": false}, "axis": {"values": [0,0.1,0.2], "labelOverlap": false, "labelExpr": "format(datum.value, '~g')", "tickSize": 6, "labelPadding": 6, "titlePadding": 9}}}},
    {"data": {"name": "B"}, "transform": [{"filter": "isValid(datum.o)"}], "mark": {"type": "circle", "size": 64, "fill": "#ffffff", "stroke": "#222", "strokeWidth": 0.9, "opacity": 1}, "encoding": {
      "x": {"field": "t", "type": "quantitative", "title": "Trial", "scale": {"domain": [-2.5, 104], "nice": false, "zero": false}, "axis": {"values": [0,10,20,30,40,50,60,70,80,90,100], "labelOverlap": false, "tickSize": 6, "labelPadding": 7, "titlePadding": 8}},
      "y": {"field": "o", "type": "quantitative", "title": "Dₖₗᵢ (change from baseline)", "scale": {"domain": [-0.0113, 0.2177], "nice": false, "zero": false}, "axis": {"values": [0,0.1,0.2], "labelOverlap": false, "labelExpr": "format(datum.value, '~g')", "tickSize": 6, "labelPadding": 6, "titlePadding": 9}}}}
   ]
  }
 ], "spacing": 110, "bounds": "flush", "resolve": {"scale": {"x": "independent", "y": "independent"}}},
 {"hconcat": [
  {
   "width": 140, "height": 140,
   "title": {"text": "C", "dx": -42, "offset": 12},
   "layer": [
    {"data": {"values": [{"k": 1}]}, "mark": {"type": "rule", "color": "#444"}, "encoding": {
      "x": {"datum": 0, "type": "quantitative", "title": "Dₖₗᵢ @ Trial 1", "scale": {"domain": [-0.4, 10.4], "nice": false, "zero": false}, "axis": {"values": [0,2,4,6,8,10], "labelOverlap": false, "tickSize": 4, "labelPadding": 1, "titlePadding": 8}},
      "x2": {"datum": 10},
      "y": {"datum": -0.385, "type": "quantitative", "title": "Dₖₗᵢ @ Trial 100", "scale": {"domain": [-0.385, 10.385], "nice": false, "zero": false}, "axis": {"values": [0,2,4,6,8,10], "labelOverlap": false, "tickSize": 5, "labelPadding": 4, "titlePadding": 12}}}},
    {"data": {"values": [{"k": 1}]}, "mark": {"type": "rule", "color": "#444"}, "encoding": {
      "x": {"datum": -0.4, "type": "quantitative", "title": "Dₖₗᵢ @ Trial 1", "scale": {"domain": [-0.4, 10.4], "nice": false, "zero": false}, "axis": {"values": [0,2,4,6,8,10], "labelOverlap": false, "tickSize": 4, "labelPadding": 1, "titlePadding": 8}},
      "y": {"datum": 0, "type": "quantitative", "title": "Dₖₗᵢ @ Trial 100", "scale": {"domain": [-0.385, 10.385], "nice": false, "zero": false}, "axis": {"values": [0,2,4,6,8,10], "labelOverlap": false, "tickSize": 5, "labelPadding": 4, "titlePadding": 12}},
      "y2": {"datum": 10}}},
    {"data": {"values": [{"k": 1}]}, "mark": {"type": "rule", "color": "#777", "strokeDash": [3, 3]}, "encoding": {
      "x": {"datum": 0, "type": "quantitative", "title": "Dₖₗᵢ @ Trial 1", "scale": {"domain": [-0.4, 10.4], "nice": false, "zero": false}, "axis": {"values": [0,2,4,6,8,10], "labelOverlap": false, "tickSize": 4, "labelPadding": 1, "titlePadding": 8}},
      "y": {"datum": 0, "type": "quantitative", "title": "Dₖₗᵢ @ Trial 100", "scale": {"domain": [-0.385, 10.385], "nice": false, "zero": false}, "axis": {"values": [0,2,4,6,8,10], "labelOverlap": false, "tickSize": 5, "labelPadding": 4, "titlePadding": 12}},
      "x2": {"datum": 10.2}, "y2": {"datum": 10.2}}},
    {"data": {"name": "C"}, "mark": {"type": "circle", "size": 55, "fill": "#aaaaaa", "stroke": "#333", "strokeWidth": 0.8, "opacity": 1}, "encoding": {
      "x": {"field": "x", "type": "quantitative", "title": "Dₖₗᵢ @ Trial 1", "scale": {"domain": [-0.4, 10.4], "nice": false, "zero": false}, "axis": {"values": [0,2,4,6,8,10], "labelOverlap": false, "tickSize": 4, "labelPadding": 1, "titlePadding": 8}},
      "y": {"field": "y", "type": "quantitative", "title": "Dₖₗᵢ @ Trial 100", "scale": {"domain": [-0.385, 10.385], "nice": false, "zero": false}, "axis": {"values": [0,2,4,6,8,10], "labelOverlap": false, "tickSize": 5, "labelPadding": 4, "titlePadding": 12}}}},
    {"data": {"values": [{"k": 1}]}, "mark": {"type": "text", "text": "****", "align": "left", "baseline": "alphabetic", "fontSize": 11, "color": "#111"}, "encoding": {
      "x": {"datum": 0.39, "type": "quantitative", "title": "Dₖₗᵢ @ Trial 1", "scale": {"domain": [-0.4, 10.4], "nice": false, "zero": false}, "axis": {"values": [0,2,4,6,8,10], "labelOverlap": false, "tickSize": 4, "labelPadding": 1, "titlePadding": 8}},
      "y": {"datum": 8.58, "type": "quantitative", "title": "Dₖₗᵢ @ Trial 100", "scale": {"domain": [-0.385, 10.385], "nice": false, "zero": false}, "axis": {"values": [0,2,4,6,8,10], "labelOverlap": false, "tickSize": 5, "labelPadding": 4, "titlePadding": 12}}}},
    {"data": {"values": [{"k": 1}]}, "mark": {"type": "text", "text": "p", "align": "left", "baseline": "alphabetic", "fontSize": 12.5, "fontStyle": "italic", "color": "#111"}, "encoding": {
      "x": {"datum": 2.16, "type": "quantitative", "title": "Dₖₗᵢ @ Trial 1", "scale": {"domain": [-0.4, 10.4], "nice": false, "zero": false}, "axis": {"values": [0,2,4,6,8,10], "labelOverlap": false, "tickSize": 4, "labelPadding": 1, "titlePadding": 8}},
      "y": {"datum": 8.58, "type": "quantitative", "title": "Dₖₗᵢ @ Trial 100", "scale": {"domain": [-0.385, 10.385], "nice": false, "zero": false}, "axis": {"values": [0,2,4,6,8,10], "labelOverlap": false, "tickSize": 5, "labelPadding": 4, "titlePadding": 12}}}},
    {"data": {"values": [{"k": 1}]}, "mark": {"type": "text", "text": "< 10", "align": "left", "baseline": "alphabetic", "fontSize": 12.5, "color": "#111"}, "encoding": {
      "x": {"datum": 2.85, "type": "quantitative", "title": "Dₖₗᵢ @ Trial 1", "scale": {"domain": [-0.4, 10.4], "nice": false, "zero": false}, "axis": {"values": [0,2,4,6,8,10], "labelOverlap": false, "tickSize": 4, "labelPadding": 1, "titlePadding": 8}},
      "y": {"datum": 8.58, "type": "quantitative", "title": "Dₖₗᵢ @ Trial 100", "scale": {"domain": [-0.385, 10.385], "nice": false, "zero": false}, "axis": {"values": [0,2,4,6,8,10], "labelOverlap": false, "tickSize": 5, "labelPadding": 4, "titlePadding": 12}}}},
    {"data": {"values": [{"k": 1}]}, "mark": {"type": "text", "text": "−15", "align": "left", "baseline": "alphabetic", "fontSize": 9, "color": "#111"}, "encoding": {
      "x": {"datum": 4.77, "type": "quantitative", "title": "Dₖₗᵢ @ Trial 1", "scale": {"domain": [-0.4, 10.4], "nice": false, "zero": false}, "axis": {"values": [0,2,4,6,8,10], "labelOverlap": false, "tickSize": 4, "labelPadding": 1, "titlePadding": 8}},
      "y": {"datum": 9.06, "type": "quantitative", "title": "Dₖₗᵢ @ Trial 100", "scale": {"domain": [-0.385, 10.385], "nice": false, "zero": false}, "axis": {"values": [0,2,4,6,8,10], "labelOverlap": false, "tickSize": 5, "labelPadding": 4, "titlePadding": 12}}}}
   ]
  },
  {
   "width": 141, "height": 140,
   "title": {"text": "D", "dx": -42, "offset": 12},
   "layer": [
    {"data": {"values": [{"k": 1}]}, "mark": {"type": "rule", "color": "#444"}, "encoding": {
      "x": {"datum": 0, "type": "quantitative", "title": "Dₖₗᵢ @ Trial 1", "scale": {"domain": [-0.45, 10.4], "nice": false, "zero": false}, "axis": {"values": [0,2,4,6,8,10], "labelOverlap": false, "tickSize": 4, "labelPadding": 1, "titlePadding": 8}},
      "x2": {"datum": 10},
      "y": {"datum": -0.385, "type": "quantitative", "title": "Dₖₗᵢ @ Trial 91", "scale": {"domain": [-0.385, 10.385], "nice": false, "zero": false}, "axis": {"values": [0,2,4,6,8,10], "labelOverlap": false, "tickSize": 5, "labelPadding": 4, "titlePadding": 12}}}},
    {"data": {"values": [{"k": 1}]}, "mark": {"type": "rule", "color": "#444"}, "encoding": {
      "x": {"datum": -0.45, "type": "quantitative", "title": "Dₖₗᵢ @ Trial 1", "scale": {"domain": [-0.45, 10.4], "nice": false, "zero": false}, "axis": {"values": [0,2,4,6,8,10], "labelOverlap": false, "tickSize": 4, "labelPadding": 1, "titlePadding": 8}},
      "y": {"datum": 0, "type": "quantitative", "title": "Dₖₗᵢ @ Trial 91", "scale": {"domain": [-0.385, 10.385], "nice": false, "zero": false}, "axis": {"values": [0,2,4,6,8,10], "labelOverlap": false, "tickSize": 5, "labelPadding": 4, "titlePadding": 12}},
      "y2": {"datum": 10}}},
    {"data": {"values": [{"k": 1}]}, "mark": {"type": "rule", "color": "#777", "strokeDash": [3, 3]}, "encoding": {
      "x": {"datum": 0, "type": "quantitative", "title": "Dₖₗᵢ @ Trial 1", "scale": {"domain": [-0.45, 10.4], "nice": false, "zero": false}, "axis": {"values": [0,2,4,6,8,10], "labelOverlap": false, "tickSize": 4, "labelPadding": 1, "titlePadding": 8}},
      "y": {"datum": 0, "type": "quantitative", "title": "Dₖₗᵢ @ Trial 91", "scale": {"domain": [-0.385, 10.385], "nice": false, "zero": false}, "axis": {"values": [0,2,4,6,8,10], "labelOverlap": false, "tickSize": 5, "labelPadding": 4, "titlePadding": 12}},
      "x2": {"datum": 10.2}, "y2": {"datum": 10.2}}},
    {"data": {"name": "D"}, "mark": {"type": "circle", "size": 55, "fill": "#aaaaaa", "stroke": "#333", "strokeWidth": 0.8, "opacity": 1}, "encoding": {
      "x": {"field": "x", "type": "quantitative", "title": "Dₖₗᵢ @ Trial 1", "scale": {"domain": [-0.45, 10.4], "nice": false, "zero": false}, "axis": {"values": [0,2,4,6,8,10], "labelOverlap": false, "tickSize": 4, "labelPadding": 1, "titlePadding": 8}},
      "y": {"field": "y", "type": "quantitative", "title": "Dₖₗᵢ @ Trial 91", "scale": {"domain": [-0.385, 10.385], "nice": false, "zero": false}, "axis": {"values": [0,2,4,6,8,10], "labelOverlap": false, "tickSize": 5, "labelPadding": 4, "titlePadding": 12}}}},
    {"data": {"values": [{"k": 1}]}, "mark": {"type": "text", "text": "****", "align": "left", "baseline": "alphabetic", "fontSize": 11, "color": "#111"}, "encoding": {
      "x": {"datum": 0.46, "type": "quantitative", "title": "Dₖₗᵢ @ Trial 1", "scale": {"domain": [-0.45, 10.4], "nice": false, "zero": false}, "axis": {"values": [0,2,4,6,8,10], "labelOverlap": false, "tickSize": 4, "labelPadding": 1, "titlePadding": 8}},
      "y": {"datum": 8.58, "type": "quantitative", "title": "Dₖₗᵢ @ Trial 91", "scale": {"domain": [-0.385, 10.385], "nice": false, "zero": false}, "axis": {"values": [0,2,4,6,8,10], "labelOverlap": false, "tickSize": 5, "labelPadding": 4, "titlePadding": 12}}}},
    {"data": {"values": [{"k": 1}]}, "mark": {"type": "text", "text": "p", "align": "left", "baseline": "alphabetic", "fontSize": 12.5, "fontStyle": "italic", "color": "#111"}, "encoding": {
      "x": {"datum": 2.2, "type": "quantitative", "title": "Dₖₗᵢ @ Trial 1", "scale": {"domain": [-0.45, 10.4], "nice": false, "zero": false}, "axis": {"values": [0,2,4,6,8,10], "labelOverlap": false, "tickSize": 4, "labelPadding": 1, "titlePadding": 8}},
      "y": {"datum": 8.58, "type": "quantitative", "title": "Dₖₗᵢ @ Trial 91", "scale": {"domain": [-0.385, 10.385], "nice": false, "zero": false}, "axis": {"values": [0,2,4,6,8,10], "labelOverlap": false, "tickSize": 5, "labelPadding": 4, "titlePadding": 12}}}},
    {"data": {"values": [{"k": 1}]}, "mark": {"type": "text", "text": "< 10", "align": "left", "baseline": "alphabetic", "fontSize": 12.5, "color": "#111"}, "encoding": {
      "x": {"datum": 2.9, "type": "quantitative", "title": "Dₖₗᵢ @ Trial 1", "scale": {"domain": [-0.45, 10.4], "nice": false, "zero": false}, "axis": {"values": [0,2,4,6,8,10], "labelOverlap": false, "tickSize": 4, "labelPadding": 1, "titlePadding": 8}},
      "y": {"datum": 8.58, "type": "quantitative", "title": "Dₖₗᵢ @ Trial 91", "scale": {"domain": [-0.385, 10.385], "nice": false, "zero": false}, "axis": {"values": [0,2,4,6,8,10], "labelOverlap": false, "tickSize": 5, "labelPadding": 4, "titlePadding": 12}}}},
    {"data": {"values": [{"k": 1}]}, "mark": {"type": "text", "text": "−4", "align": "left", "baseline": "alphabetic", "fontSize": 9, "color": "#111"}, "encoding": {
      "x": {"datum": 4.8, "type": "quantitative", "title": "Dₖₗᵢ @ Trial 1", "scale": {"domain": [-0.45, 10.4], "nice": false, "zero": false}, "axis": {"values": [0,2,4,6,8,10], "labelOverlap": false, "tickSize": 4, "labelPadding": 1, "titlePadding": 8}},
      "y": {"datum": 9.06, "type": "quantitative", "title": "Dₖₗᵢ @ Trial 91", "scale": {"domain": [-0.385, 10.385], "nice": false, "zero": false}, "axis": {"values": [0,2,4,6,8,10], "labelOverlap": false, "tickSize": 5, "labelPadding": 4, "titlePadding": 12}}}}
   ]
  },
  {
   "width": 142, "height": 140,
   "title": {"text": "E", "dx": -39, "offset": 4},
   "layer": [
    {"data": {"values": [{"k": 1}]}, "mark": {"type": "rule", "color": "#444"}, "encoding": {
      "x": {"datum": 0, "type": "quantitative", "title": "Trial", "scale": {"domain": [-4, 104], "nice": false, "zero": false}, "axis": {"values": [0,10,20,30,40,50,60,70,80,90,100], "labelOverlap": false, "labelExpr": "datum.value % 20 == 0 ? datum.label : ''", "tickSize": 5, "labelPadding": 9, "titlePadding": 8}},
      "x2": {"datum": 100},
      "y": {"datum": -0.021, "type": "quantitative", "title": "Dₖₗᵢ (change from baseline)", "scale": {"domain": [-0.021, 0.5625], "nice": false, "zero": false}, "axis": {"values": [0,0.1,0.2,0.3,0.4,0.5], "labelOverlap": false, "labelExpr": "round(datum.value*10) % 2 == 0 ? format(datum.value, '~g') : ''", "tickSize": 5, "labelPadding": 6, "titlePadding": 10}}}},
    {"data": {"values": [{"k": 1}]}, "mark": {"type": "rule", "color": "#444"}, "encoding": {
      "x": {"datum": -4, "type": "quantitative", "title": "Trial", "scale": {"domain": [-4, 104], "nice": false, "zero": false}, "axis": {"values": [0,10,20,30,40,50,60,70,80,90,100], "labelOverlap": false, "labelExpr": "datum.value % 20 == 0 ? datum.label : ''", "tickSize": 5, "labelPadding": 9, "titlePadding": 8}},
      "y": {"datum": 0, "type": "quantitative", "title": "Dₖₗᵢ (change from baseline)", "scale": {"domain": [-0.021, 0.5625], "nice": false, "zero": false}, "axis": {"values": [0,0.1,0.2,0.3,0.4,0.5], "labelOverlap": false, "labelExpr": "round(datum.value*10) % 2 == 0 ? format(datum.value, '~g') : ''", "tickSize": 5, "labelPadding": 6, "titlePadding": 10}},
      "y2": {"datum": 0.5}}},
    {"data": {"name": "E"}, "transform": [{"filter": "isValid(datum.o)"}], "mark": {"type": "errorbar", "color": "#4a4a4a", "thickness": 1.8}, "encoding": {
      "x": {"field": "t", "type": "quantitative", "title": "Trial", "scale": {"domain": [-4, 104], "nice": false, "zero": false}, "axis": {"values": [0,10,20,30,40,50,60,70,80,90,100], "labelOverlap": false, "labelExpr": "datum.value % 20 == 0 ? datum.label : ''", "tickSize": 5, "labelPadding": 9, "titlePadding": 8}},
      "y": {"field": "o", "type": "quantitative", "title": "Dₖₗᵢ (change from baseline)", "scale": {"domain": [-0.021, 0.5625], "nice": false, "zero": false}, "axis": {"values": [0,0.1,0.2,0.3,0.4,0.5], "labelOverlap": false, "labelExpr": "round(datum.value*10) % 2 == 0 ? format(datum.value, '~g') : ''", "tickSize": 5, "labelPadding": 6, "titlePadding": 10}},
      "yError": {"field": "oe"}}},
    {"data": {"name": "E"}, "mark": {"type": "errorbar", "color": "#e8605c", "thickness": 1.3}, "encoding": {
      "x": {"field": "t", "type": "quantitative", "title": "Trial", "scale": {"domain": [-4, 104], "nice": false, "zero": false}, "axis": {"values": [0,10,20,30,40,50,60,70,80,90,100], "labelOverlap": false, "labelExpr": "datum.value % 20 == 0 ? datum.label : ''", "tickSize": 5, "labelPadding": 9, "titlePadding": 8}},
      "y": {"field": "r", "type": "quantitative", "title": "Dₖₗᵢ (change from baseline)", "scale": {"domain": [-0.021, 0.5625], "nice": false, "zero": false}, "axis": {"values": [0,0.1,0.2,0.3,0.4,0.5], "labelOverlap": false, "labelExpr": "round(datum.value*10) % 2 == 0 ? format(datum.value, '~g') : ''", "tickSize": 5, "labelPadding": 6, "titlePadding": 10}},
      "yError": {"field": "re"}}},
    {"data": {"name": "E"}, "transform": [{"filter": "isValid(datum.k)"}], "mark": {"type": "line", "color": "#222", "strokeWidth": 1}, "encoding": {
      "x": {"field": "t", "type": "quantitative", "title": "Trial", "scale": {"domain": [-4, 104], "nice": false, "zero": false}, "axis": {"values": [0,10,20,30,40,50,60,70,80,90,100], "labelOverlap": false, "labelExpr": "datum.value % 20 == 0 ? datum.label : ''", "tickSize": 5, "labelPadding": 9, "titlePadding": 8}},
      "y": {"field": "k", "type": "quantitative", "title": "Dₖₗᵢ (change from baseline)", "scale": {"domain": [-0.021, 0.5625], "nice": false, "zero": false}, "axis": {"values": [0,0.1,0.2,0.3,0.4,0.5], "labelOverlap": false, "labelExpr": "round(datum.value*10) % 2 == 0 ? format(datum.value, '~g') : ''", "tickSize": 5, "labelPadding": 6, "titlePadding": 10}}}},
    {"data": {"name": "E"}, "transform": [{"filter": "isValid(datum.d)"}], "mark": {"type": "circle", "size": 45, "fill": "#5a5a5a", "stroke": "#222", "strokeWidth": 0.8, "opacity": 1}, "encoding": {
      "x": {"field": "t", "type": "quantitative", "title": "Trial", "scale": {"domain": [-4, 104], "nice": false, "zero": false}, "axis": {"values": [0,10,20,30,40,50,60,70,80,90,100], "labelOverlap": false, "labelExpr": "datum.value % 20 == 0 ? datum.label : ''", "tickSize": 5, "labelPadding": 9, "titlePadding": 8}},
      "y": {"field": "d", "type": "quantitative", "title": "Dₖₗᵢ (change from baseline)", "scale": {"domain": [-0.021, 0.5625], "nice": false, "zero": false}, "axis": {"values": [0,0.1,0.2,0.3,0.4,0.5], "labelOverlap": false, "labelExpr": "round(datum.value*10) % 2 == 0 ? format(datum.value, '~g') : ''", "tickSize": 5, "labelPadding": 6, "titlePadding": 10}}}},
    {"data": {"name": "E"}, "mark": {"type": "circle", "size": 50, "fill": "#f7a5a5", "stroke": "#d8312e", "strokeWidth": 0.8, "opacity": 1}, "encoding": {
      "x": {"field": "t", "type": "quantitative", "title": "Trial", "scale": {"domain": [-4, 104], "nice": false, "zero": false}, "axis": {"values": [0,10,20,30,40,50,60,70,80,90,100], "labelOverlap": false, "labelExpr": "datum.value % 20 == 0 ? datum.label : ''", "tickSize": 5, "labelPadding": 9, "titlePadding": 8}},
      "y": {"field": "r", "type": "quantitative", "title": "Dₖₗᵢ (change from baseline)", "scale": {"domain": [-0.021, 0.5625], "nice": false, "zero": false}, "axis": {"values": [0,0.1,0.2,0.3,0.4,0.5], "labelOverlap": false, "labelExpr": "round(datum.value*10) % 2 == 0 ? format(datum.value, '~g') : ''", "tickSize": 5, "labelPadding": 6, "titlePadding": 10}}}},
    {"data": {"name": "E"}, "transform": [{"filter": "isValid(datum.o)"}], "mark": {"type": "circle", "size": 50, "fill": "#ffffff", "stroke": "#222", "strokeWidth": 0.8, "opacity": 1}, "encoding": {
      "x": {"field": "t", "type": "quantitative", "title": "Trial", "scale": {"domain": [-4, 104], "nice": false, "zero": false}, "axis": {"values": [0,10,20,30,40,50,60,70,80,90,100], "labelOverlap": false, "labelExpr": "datum.value % 20 == 0 ? datum.label : ''", "tickSize": 5, "labelPadding": 9, "titlePadding": 8}},
      "y": {"field": "o", "type": "quantitative", "title": "Dₖₗᵢ (change from baseline)", "scale": {"domain": [-0.021, 0.5625], "nice": false, "zero": false}, "axis": {"values": [0,0.1,0.2,0.3,0.4,0.5], "labelOverlap": false, "labelExpr": "round(datum.value*10) % 2 == 0 ? format(datum.value, '~g') : ''", "tickSize": 5, "labelPadding": 6, "titlePadding": 10}}}}
   ]
  },
  {
   "width": 141, "height": 140,
   "title": {"text": "F", "dx": -41, "offset": 4},
   "layer": [
    {"data": {"values": [{"k": 1}]}, "mark": {"type": "rule", "color": "#444"}, "encoding": {
      "x": {"datum": 0, "type": "quantitative", "title": "Trial", "scale": {"domain": [-4, 104], "nice": false, "zero": false}, "axis": {"values": [0,10,20,30,40,50,60,70,80,90,100], "labelOverlap": false, "labelExpr": "datum.value % 20 == 0 ? datum.label : ''", "tickSize": 5, "labelPadding": 9, "titlePadding": 8}},
      "x2": {"datum": 100},
      "y": {"datum": -0.083, "type": "quantitative", "title": "Dₖₗᵢ (change from baseline)", "scale": {"domain": [-0.083, 2.25], "nice": false, "zero": false}, "axis": {"values": [0,0.5,1,1.5,2], "labelOverlap": false, "labelExpr": "format(datum.value, '~g')", "tickSize": 5, "labelPadding": 2, "titlePadding": 13}}}},
    {"data": {"values": [{"k": 1}]}, "mark": {"type": "rule", "color": "#444"}, "encoding": {
      "x": {"datum": -4, "type": "quantitative", "title": "Trial", "scale": {"domain": [-4, 104], "nice": false, "zero": false}, "axis": {"values": [0,10,20,30,40,50,60,70,80,90,100], "labelOverlap": false, "labelExpr": "datum.value % 20 == 0 ? datum.label : ''", "tickSize": 5, "labelPadding": 9, "titlePadding": 8}},
      "y": {"datum": 0, "type": "quantitative", "title": "Dₖₗᵢ (change from baseline)", "scale": {"domain": [-0.083, 2.25], "nice": false, "zero": false}, "axis": {"values": [0,0.5,1,1.5,2], "labelOverlap": false, "labelExpr": "format(datum.value, '~g')", "tickSize": 5, "labelPadding": 2, "titlePadding": 13}},
      "y2": {"datum": 2}}},
    {"data": {"name": "F"}, "mark": {"type": "errorbar", "color": "#555", "thickness": 1.8}, "encoding": {
      "x": {"field": "t", "type": "quantitative", "title": "Trial", "scale": {"domain": [-4, 104], "nice": false, "zero": false}, "axis": {"values": [0,10,20,30,40,50,60,70,80,90,100], "labelOverlap": false, "labelExpr": "datum.value % 20 == 0 ? datum.label : ''", "tickSize": 5, "labelPadding": 9, "titlePadding": 8}},
      "y": {"field": "v", "type": "quantitative", "title": "Dₖₗᵢ (change from baseline)", "scale": {"domain": [-0.083, 2.25], "nice": false, "zero": false}, "axis": {"values": [0,0.5,1,1.5,2], "labelOverlap": false, "labelExpr": "format(datum.value, '~g')", "tickSize": 5, "labelPadding": 2, "titlePadding": 13}},
      "yError": {"field": "e"}}},
    {"data": {"name": "F"}, "mark": {"type": "circle", "size": 50, "fill": "#aaaaaa", "stroke": "#333", "strokeWidth": 0.8, "opacity": 1}, "encoding": {
      "x": {"field": "t", "type": "quantitative", "title": "Trial", "scale": {"domain": [-4, 104], "nice": false, "zero": false}, "axis": {"values": [0,10,20,30,40,50,60,70,80,90,100], "labelOverlap": false, "labelExpr": "datum.value % 20 == 0 ? datum.label : ''", "tickSize": 5, "labelPadding": 9, "titlePadding": 8}},
      "y": {"field": "v", "type": "quantitative", "title": "Dₖₗᵢ (change from baseline)", "scale": {"domain": [-0.083, 2.25], "nice": false, "zero": false}, "axis": {"values": [0,0.5,1,1.5,2], "labelOverlap": false, "labelExpr": "format(datum.value, '~g')", "tickSize": 5, "labelPadding": 2, "titlePadding": 13}}}}
   ]
  }
 ], "spacing": 60, "bounds": "flush", "resolve": {"scale": {"x": "independent", "y": "independent"}}}
],
"spacing": 15,
"bounds": "full",
"resolve": {"scale": {"x": "independent", "y": "independent"}}
}
